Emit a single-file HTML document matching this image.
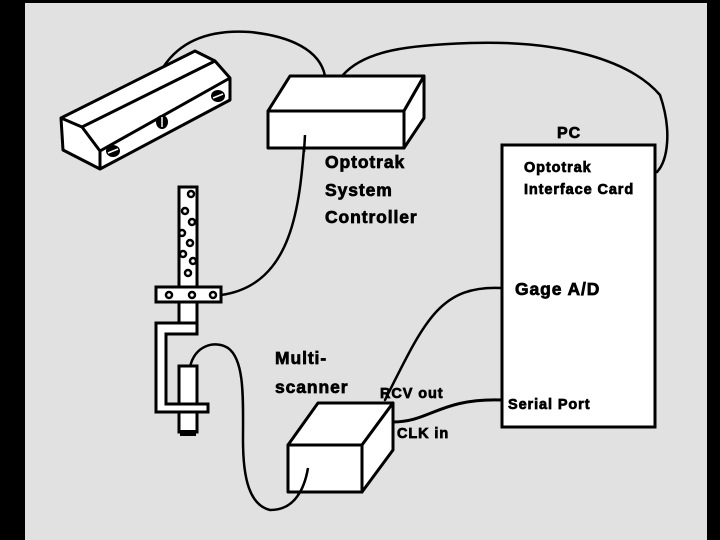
<!DOCTYPE html>
<html><head><style>
html,body{margin:0;padding:0;background:#000;}
svg{display:block}
text{font-family:"Liberation Sans",Arial,sans-serif;font-weight:bold;fill:#000;stroke:#000;stroke-width:0.7;letter-spacing:0.9px}
</style></head><body>
<svg width="720" height="540" viewBox="0 0 720 540">
<rect x="0" y="0" width="720" height="540" fill="#000"/>
<rect x="25" y="3" width="682" height="537" fill="#e1e1e1"/>
<g fill="none" stroke="#000" stroke-width="2.5" stroke-linecap="round">
<path d="M164,66 C185,35 220,30 250,32 C290,36 320,50 325,76"/>
<path d="M343,75 C365,50 410,45 470,43 C560,40 630,60 660,95 C672,130 668,160 657,172"/>
<path d="M305,135 C300,200 295,285 221,295"/>
<path d="M502,288 C440,285 425,320 385,400"/>
<path d="M502,400 C440,398 430,422 393,422" stroke-width="3"/>
<path d="M190,367 C195,345 215,340 228,348 C245,360 243,400 243,440 C243,480 250,505 270,510 C300,510 305,480 308,468"/>
</g>
<!-- sensor bar -->
<g fill="#fff" stroke="#000" stroke-width="3" stroke-linejoin="round">
<polygon points="61,118 195,51 215,61 230,78 230,100 100,169 63,150"/>
<polyline fill="none" points="61,118 82,127 100,151 100,169"/>
<line x1="82" y1="127" x2="215" y2="61"/>
<line x1="100" y1="151" x2="230" y2="78"/>
</g>
<g fill="#000">
<ellipse cx="113" cy="151" rx="7" ry="6"/><ellipse cx="162" cy="122" rx="6" ry="7"/><ellipse cx="218" cy="96" rx="7" ry="6"/>
</g>
<g stroke="#fff" stroke-width="1.5"><line x1="108" y1="153" x2="118" y2="149"/><line x1="162" y1="117" x2="162" y2="127"/><line x1="213" y1="98" x2="223" y2="94"/></g>
<!-- controller -->
<g fill="#fff" stroke="#000" stroke-width="3" stroke-linejoin="round">
<polygon points="268,111 290,76 424,76 404,111"/>
<polygon points="404,111 424,76 424,118 404,148"/>
<rect x="268" y="111" width="136" height="37"/>
</g>
<path d="M305,135 L304,152" stroke="#000" stroke-width="2.5"/>
<!-- PC -->
<rect x="502" y="145" width="153" height="282" fill="#fff" stroke="#000" stroke-width="3"/>
<!-- probe -->
<g fill="#fff" stroke="#000" stroke-width="3">
<rect x="179" y="187" width="18" height="100"/>
<rect x="179" y="302" width="18" height="22"/>
<path d="M197,323 L156,323 L156,412 L208,412 L208,404 L166,404 L166,334 L197,334 Z"/>
<rect x="179" y="366" width="18" height="38"/>
<rect x="179" y="412" width="18" height="20"/>
<rect x="156" y="287" width="65" height="15"/>
</g>
<rect x="180" y="430" width="16" height="6" fill="#000"/>
<g fill="none" stroke="#000" stroke-width="2.5">
<circle cx="191" cy="194" r="3"/><circle cx="185" cy="211" r="3"/><circle cx="192" cy="222" r="3"/><circle cx="182" cy="233" r="3"/><circle cx="190" cy="243" r="3"/><circle cx="183" cy="254" r="3"/><circle cx="193" cy="261" r="3"/><circle cx="188" cy="273" r="3"/>
<circle cx="169" cy="295" r="3"/><circle cx="192" cy="295" r="3"/><circle cx="213" cy="295" r="3"/>
</g>
<!-- multiscanner -->
<g fill="#fff" stroke="#000" stroke-width="3" stroke-linejoin="round">
<polygon points="288,445 318,403 393,403 362,445"/>
<polygon points="362,445 393,403 393,450 362,492"/>
<rect x="288" y="445" width="74" height="47"/>
</g>
<path d="M308,468 C306,480 302,490 298,495" stroke="#000" stroke-width="2.5" fill="none"/>
<!-- labels -->
<text x="325" y="168" font-size="17.5">Optotrak</text>
<text x="325" y="196" font-size="17.5">System</text>
<text x="325" y="223" font-size="17.5">Controller</text>
<text x="557" y="138" font-size="16">PC</text>
<text x="524" y="172" font-size="14.5">Optotrak</text>
<text x="524" y="194" font-size="14.5">Interface Card</text>
<text x="515" y="295" font-size="17.5">Gage A/D</text>
<text x="275" y="364" font-size="17.5">Multi-</text>
<text x="275" y="393" font-size="17.5">scanner</text>
<text x="380" y="398" font-size="14.5">RCV out</text>
<text x="397" y="438" font-size="14.5">CLK in</text>
<text x="508" y="409" font-size="14.5">Serial Port</text>
</svg>
</body></html>
